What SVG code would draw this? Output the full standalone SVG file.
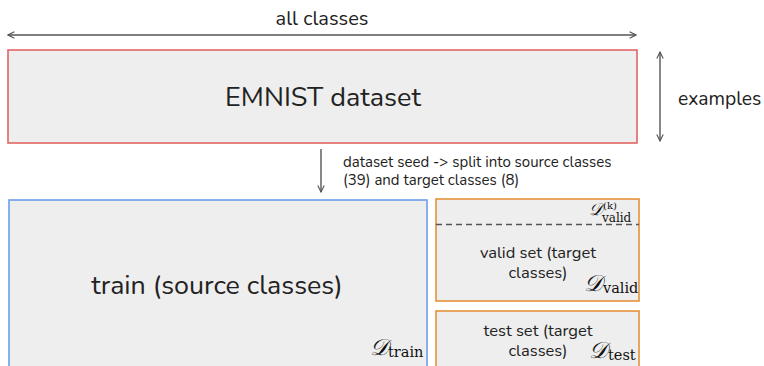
<svg xmlns="http://www.w3.org/2000/svg" width="764" height="366" viewBox="0 0 764 366">
  <style>
    .lbl { font-family: "Nunito", "Lato", "Open Sans", sans-serif; fill: #222; }
    .box { fill: #eeeeee; stroke-width: 1.6; }
    .conn { stroke: #555; stroke-width: 1.4; fill: none; }
    .math { font-family: "DejaVu Serif", "Liberation Serif", serif; font-style: italic; fill: #111; }
    .sub { font-family: "DejaVu Serif", "Liberation Serif", serif; font-style: normal; fill: #111; }
  </style>
  <defs>
    <marker id="head" viewBox="0 0 10 10" refX="9" refY="5" markerWidth="8" markerHeight="8" orient="auto-start-reverse" markerUnits="userSpaceOnUse">
      <path d="M1,1 L9,5 L1,9" fill="none" stroke="#555" stroke-width="1.4"/>
    </marker>
  </defs>

  <g id="connectors">
    <line class="conn" x1="8" y1="35" x2="636" y2="35" marker-start="url(#head)" marker-end="url(#head)"/>
    <line class="conn" x1="660" y1="52" x2="660" y2="141" marker-start="url(#head)" marker-end="url(#head)"/>
    <line class="conn" x1="321" y1="149" x2="321" y2="192" marker-end="url(#head)"/>
  </g>

  <g id="axis-labels">
    <text class="lbl" x="322" y="25" font-size="20" text-anchor="middle">all classes</text>
    <text class="lbl" x="678" y="105" font-size="19.3">examples</text>
    <text class="lbl" font-size="15"><tspan x="343" y="166.5">dataset seed -&gt; split into source classes</tspan><tspan x="343" y="185">(39) and target classes (8)</tspan></text>
  </g>

  <g id="emnist">
    <rect class="box" x="8" y="50" width="629" height="93" stroke="#e06666"/>
    <text class="lbl" x="323" y="106" font-size="27" text-anchor="middle">EMNIST dataset</text>
  </g>

  <g id="train">
    <rect class="box" x="9" y="200" width="418" height="180" stroke="#6d9eeb"/>
    <text class="lbl" x="217" y="294" font-size="26.8" text-anchor="middle">train (source classes)</text>
    <text class="math" x="370" y="355" font-size="23">𝒟</text>
    <text class="sub" x="388" y="357" font-size="14.5">train</text>
  </g>

  <g id="valid">
    <rect class="box" x="436" y="199" width="203" height="102" stroke="#e69138"/>
    <line x1="436" y1="224.5" x2="639" y2="224.5" stroke="#555" stroke-width="1.4" stroke-dasharray="6,4"/>
    <text class="math" x="589" y="215" font-size="17">𝒟</text>
    <text class="sub" x="603" y="209" font-size="10" font-style="italic">(k)</text>
    <text class="sub" x="602" y="222" font-size="12">valid</text>
    <text class="lbl" font-size="16.5" text-anchor="middle"><tspan x="538" y="258">valid set (target</tspan><tspan x="538" y="278">classes)</tspan></text>
    <text class="math" x="584" y="291" font-size="23">𝒟</text>
    <text class="sub" x="603" y="293" font-size="14.5">valid</text>
  </g>

  <g id="test">
    <rect class="box" x="436" y="311" width="203" height="70" stroke="#e69138"/>
    <text class="lbl" font-size="16.5" text-anchor="middle"><tspan x="538" y="336">test set (target</tspan><tspan x="538" y="356">classes)</tspan></text>
    <text class="math" x="589" y="358" font-size="23">𝒟</text>
    <text class="sub" x="608" y="360" font-size="14.5">test</text>
  </g>
</svg>
